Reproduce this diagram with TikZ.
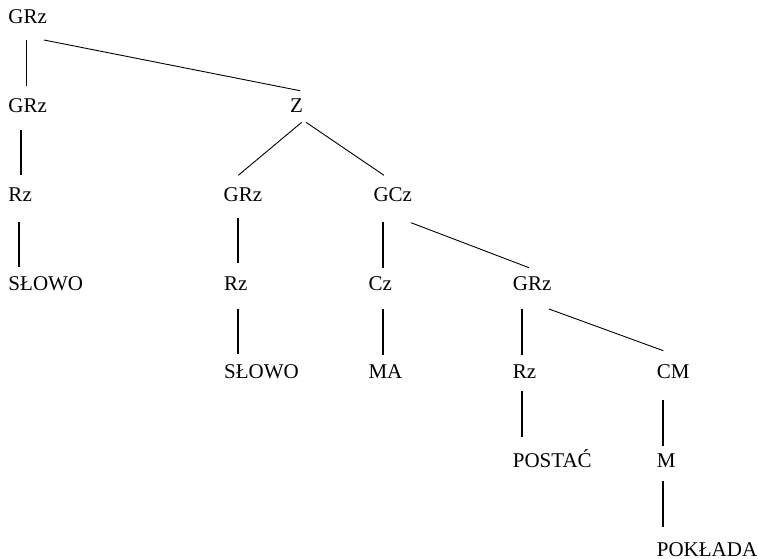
\documentclass[tikz,border=0pt]{standalone}
\usepackage{fontspec}
\setmainfont{Liberation Serif}
\begin{document}
\begin{tikzpicture}[x=1pt,y=-1pt,
  lbl/.style={anchor=base west, inner sep=0pt, font=\fontsize{21}{25}\selectfont},
  thinedge/.style={line width=0.9pt},
  boldedge/.style={line width=1.8pt}]
\useasboundingbox (0,0) rectangle (758,559);

% row 1
\node[lbl] (grz0) at (8.3,24) {GRz};
% row 2
\node[lbl] (grz1) at (8.3,112.7) {GRz};
\node[lbl] (z) at (290,112.7) {Z};
% row 3
\node[lbl] (rz1) at (8.3,201.3) {Rz};
\node[lbl] (grz2) at (223.5,201.3) {GRz};
\node[lbl] (gcz) at (373.3,201.3) {GCz};
% row 4
\node[lbl] (slowo1) at (8.3,290) {SŁOWO};
\node[lbl] (rz2) at (224,290) {Rz};
\node[lbl] (cz) at (368.3,290) {Cz};
\node[lbl] (grz3) at (512.7,290) {GRz};
% row 5
\node[lbl] (slowo2) at (224,378.7) {SŁOWO};
\node[lbl] (ma) at (368.3,378.7) {MA};
\node[lbl] (rz3) at (512.7,378.7) {Rz};
\node[lbl] (cm) at (656.7,378.7) {CM};
% row 6
\node[lbl] (postac) at (512.7,467.3) {POSTAĆ};
\node[lbl] (m) at (656.7,467.3) {M};
% row 7
\node[lbl] (pokl) at (656.7,556) {POKŁADA};

% branch end points
\coordinate (grz0-a) at (26.7,40);   \coordinate (grz1-t) at (26.7,86);
\coordinate (grz0-b) at (44,40);     \coordinate (z-t) at (300,90.7);
\coordinate (z-a) at (301.7,122.3);  \coordinate (grz2-t) at (238.3,175.3);
\coordinate (z-b) at (306,122.3);    \coordinate (gcz-t) at (384,175.3);
\coordinate (grz1-a) at (21,130);    \coordinate (rz1-t) at (21,175);
\coordinate (rz1-a) at (18.7,221.7); \coordinate (slowo1-t) at (18.7,267.3);
\coordinate (grz2-a) at (237.7,218.3); \coordinate (rz2-t) at (237.7,263.3);
\coordinate (rz2-a) at (237.7,309.3);  \coordinate (slowo2-t) at (237.7,354.3);
\coordinate (gcz-a) at (382.7,222);    \coordinate (cz-t) at (382.7,267.7);
\coordinate (gcz-b) at (411,222.7);    \coordinate (grz3-t) at (529,267.7);
\coordinate (cz-a) at (382.7,308.7);   \coordinate (ma-t) at (382.7,355);
\coordinate (grz3-a) at (521.7,308.7); \coordinate (rz3-t) at (521.7,355);
\coordinate (grz3-b) at (549,309);     \coordinate (cm-t) at (663.3,350.7);
\coordinate (rz3-a) at (522,390.7);    \coordinate (postac-t) at (522,436.7);
\coordinate (cm-a) at (662.7,400);     \coordinate (m-t) at (662.7,445.7);
\coordinate (m-a) at (662.7,481);      \coordinate (pokl-t) at (662.7,526.7);

% branches
\draw[thinedge] (grz0-a) -- (grz1-t);
\draw[thinedge] (grz0-b) -- (z-t);
\draw[thinedge] (z-a) -- (grz2-t);
\draw[thinedge] (z-b) -- (gcz-t);
\draw[boldedge] (grz1-a) -- (rz1-t);
\draw[boldedge] (rz1-a) -- (slowo1-t);
\draw[boldedge] (grz2-a) -- (rz2-t);
\draw[boldedge] (rz2-a) -- (slowo2-t);
\draw[boldedge] (gcz-a) -- (cz-t);
\draw[thinedge] (gcz-b) -- (grz3-t);
\draw[boldedge] (cz-a) -- (ma-t);
\draw[boldedge] (grz3-a) -- (rz3-t);
\draw[thinedge] (grz3-b) -- (cm-t);
\draw[boldedge] (rz3-a) -- (postac-t);
\draw[boldedge] (cm-a) -- (m-t);
\draw[boldedge] (m-a) -- (pokl-t);
\end{tikzpicture}
\end{document}
